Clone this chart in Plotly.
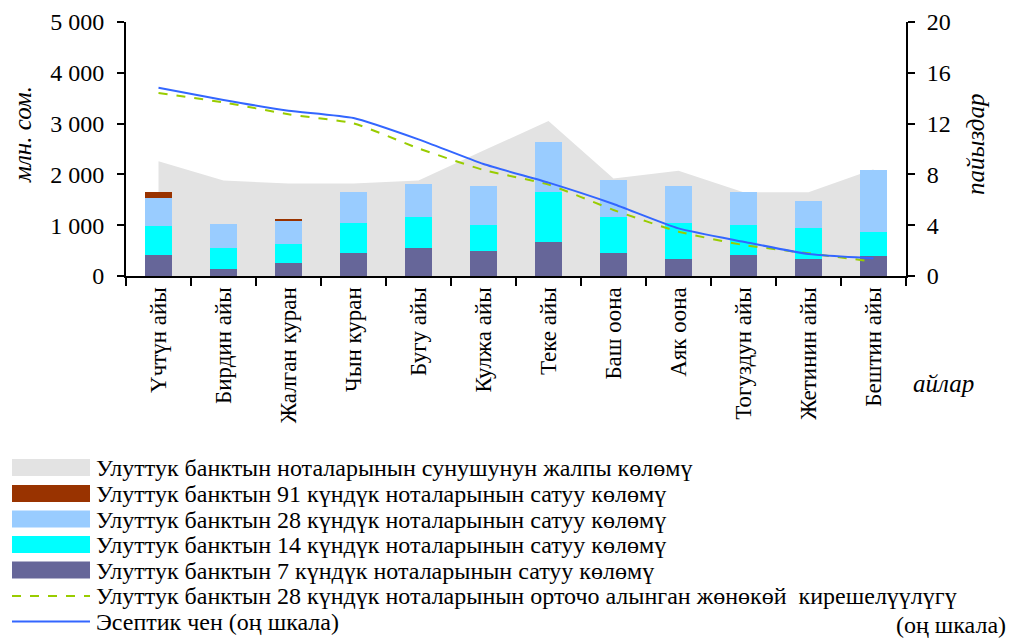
import plotly.graph_objects as go

# months (Kyrgyz)
months = ["Үчтүн айы", "Бирдин айы", "Жалган куран", "Чын куран", "Бугу айы", "Кулжа айы",
          "Теке айы", "Баш оона", "Аяк оона", "Тогуздун айы", "Жетинин айы", "Бештин айы"]

total_offer = [2260, 1880, 1820, 1820, 1880, 2470, 3050, 1920, 2070, 1650, 1650, 2100]
sales_7d = [415, 138, 256, 453, 551, 492, 669, 453, 335, 413, 335, 394]
sales_14d = [570, 413, 374, 590, 610, 512, 985, 708, 708, 591, 610, 472]
sales_28d = [550, 473, 453, 611, 650, 768, 984, 729, 729, 650, 531, 1221]
sales_91d = [120, 0, 39, 0, 0, 0, 0, 0, 0, 0, 0, 0]
yield_28d = [14.41, 13.67, 12.73, 12.02, 10.05, 8.35, 7.2, 5.2, 3.49, 2.44, 1.79, 1.13]
discount_rate = [14.83, 13.86, 13.02, 12.44, 10.76, 8.82, 7.35, 5.67, 3.75, 2.70, 1.73, 1.39]

legend_names = [
    "Улуттук банктын ноталарынын сунушунун жалпы көлөмү",
    "Улуттук банктын 91 күндүк ноталарынын сатуу көлөмү",
    "Улуттук банктын 28 күндүк ноталарынын сатуу көлөмү",
    "Улуттук банктын 14 күндүк ноталарынын сатуу көлөмү",
    "Улуттук банктын 7 күндүк ноталарынын сатуу көлөмү",
    "Улуттук банктын 28 күндүк ноталарынын орточо алынган жөнөкөй  кирешелүүлүгү",
    "Эсептик чен (оң шкала)",
]

GRAY = "#e3e3e3"
BROWN = "#993300"
LBLUE = "#99ccff"
CYAN = "#00ffff"
SLATE = "#666699"
GREEN = "#99cc00"
BLUE = "#3366ff"
FONT = "Liberation Serif"

W, H = 1015, 639
L, R, T, B = 126, 906, 22, 276  # plot area in pixels


def px(x):
    return (x - L) / (R - L)


def py(y):
    return (B - y) / (B - T)


fig = go.Figure()

# gray area first, on the main axis so it sits under the bars
fig.add_trace(go.Scatter(x=months, y=total_offer, mode="none", fill="tozeroy",
                         fillcolor=GRAY, yaxis="y", hoverinfo="skip"))

for vals, col in [(sales_7d, SLATE), (sales_14d, CYAN), (sales_28d, LBLUE), (sales_91d, BROWN)]:
    fig.add_trace(go.Bar(x=months, y=vals, marker_color=col, marker_line_width=0, yaxis="y2"))

fig.add_trace(go.Scatter(x=months, y=yield_28d, mode="lines", yaxis="y3",
                         line=dict(color=GREEN, width=2, dash="dash", shape="spline", smoothing=0.5)))
fig.add_trace(go.Scatter(x=months, y=discount_rate, mode="lines", yaxis="y3",
                         line=dict(color=BLUE, width=2, shape="spline", smoothing=0.5)))

tickfont = dict(family=FONT, size=24, color="black")

fig.update_layout(
    width=W, height=H,
    margin=dict(l=L, r=W - R, t=T, b=H - B, autoexpand=False),
    plot_bgcolor="white", paper_bgcolor="white",
    showlegend=False,
    barmode="stack", bargap=0.57,
    font=dict(family=FONT, color="black"),
    xaxis=dict(type="category", showline=True, linecolor="black", linewidth=2,
               ticks="outside", tickson="boundaries", ticklen=8, tickwidth=2, tickcolor="black",
               tickangle=-90, tickfont=dict(family=FONT, size=23, color="black"),
               showgrid=False, range=[-0.5, 11.5]),
    yaxis=dict(range=[0, 5000], dtick=1000, showline=True, linecolor="black", linewidth=2,
               ticks="outside", ticklen=7, tickwidth=2, tickcolor="black",
               tickfont=tickfont, tickformat=",d", ticklabelstandoff=8,
               showgrid=False, zeroline=False),
    yaxis2=dict(range=[0, 5000], overlaying="y", visible=False),
    yaxis3=dict(range=[0, 20], dtick=4, overlaying="y", side="right", anchor="x",
                showline=True, linecolor="black", linewidth=2,
                ticks="outside", ticklen=7, tickwidth=2, tickcolor="black",
                tickfont=tickfont, ticklabelstandoff=7, showgrid=False, zeroline=False),
    separators=". ",
)

ann = [
    dict(text="млн. сом.", x=px(22), y=py(135), textangle=-90),
    dict(text="пайыздар", x=px(975), y=py(144), textangle=-90),
    dict(text="айлар", x=px(943), y=py(383), textangle=0),
]
for a in ann:
    fig.add_annotation(xref="paper", yref="paper", showarrow=False,
                       xanchor="center", yanchor="middle",
                       font=dict(family=FONT, size=25, color="black", style="italic"), **a)

# legend drawn by hand with wide swatches
rows = [468, 494, 519.5, 545, 570.5, 596, 621.5]
swatches = [GRAY, BROWN, LBLUE, CYAN, SLATE, None, None]
for i, (name, yc) in enumerate(zip(legend_names, rows)):
    if swatches[i]:
        fig.add_shape(type="rect", xref="paper", yref="paper",
                      x0=px(12), x1=px(90), y0=py(yc - 9), y1=py(yc + 8),
                      fillcolor=swatches[i], line_width=0)
    else:
        col, dash = (GREEN, "dash") if i == 5 else (BLUE, "solid")
        fig.add_shape(type="line", xref="paper", yref="paper",
                      x0=px(12), x1=px(90), y0=py(yc), y1=py(yc),
                      line=dict(color=col, width=2, dash=dash))
    fig.add_annotation(xref="paper", yref="paper", x=px(94), y=py(yc), text=name,
                       showarrow=False, xanchor="left", yanchor="middle",
                       font=dict(family=FONT, size=24, color="black"))
fig.add_annotation(xref="paper", yref="paper", x=px(1008), y=py(625), text="(оң шкала)",
                   showarrow=False, xanchor="right", yanchor="middle",
                   font=dict(family=FONT, size=24, color="black"))

fig.write_html("out.html", config={"displayModeBar": False},
               post_script="document.body.style.margin='0';")
